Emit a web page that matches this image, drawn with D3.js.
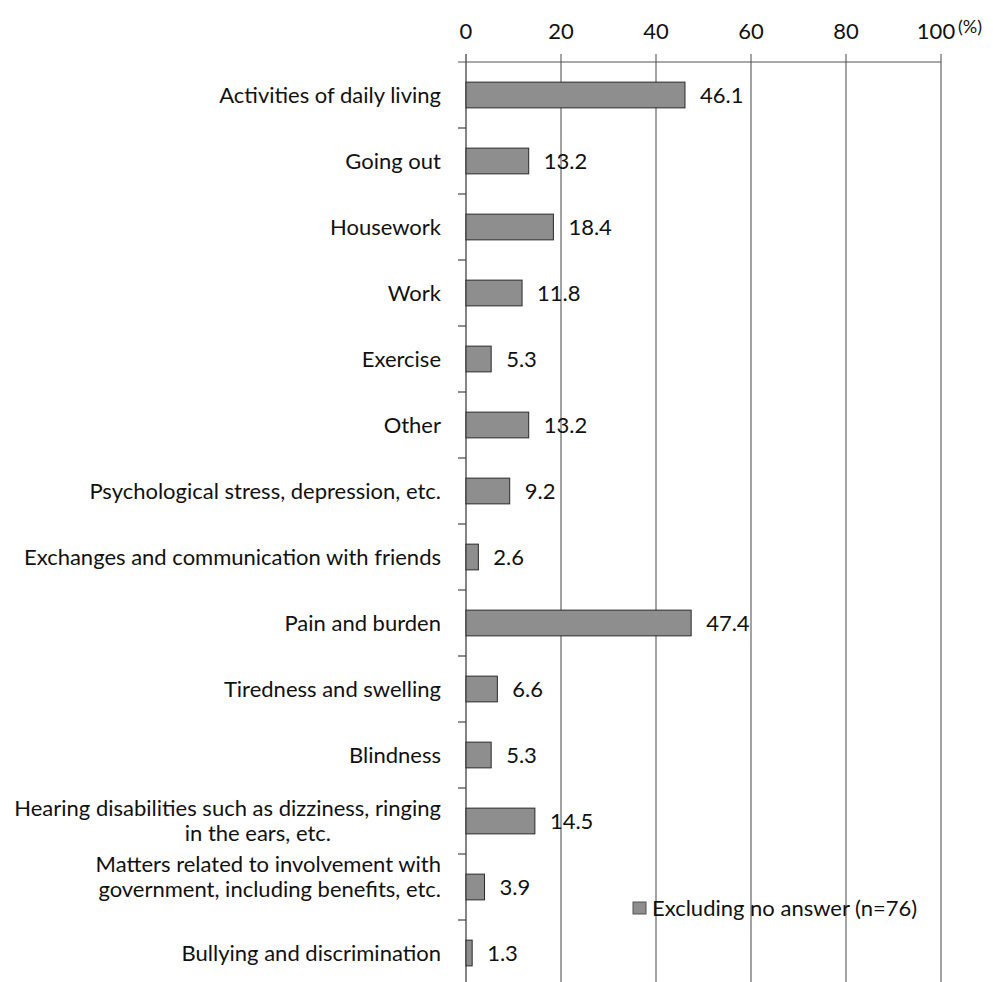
<!DOCTYPE html>
<html>
<head>
<meta charset="utf-8">
<script src="https://cdn.jsdelivr.net/npm/d3@7"></script>
<style>
  body { margin: 0; background: #fff; }
  text { font-family: Lato, "Open Sans", sans-serif; fill: #111; }
</style>
</head>
<body>
<svg id="chart"></svg>
<script>
// Categories (line breaks where the original wraps)
const categories = [
  ["Activities of daily living"],
  ["Going out"],
  ["Housework"],
  ["Work"],
  ["Exercise"],
  ["Other"],
  ["Psychological stress, depression, etc."],
  ["Exchanges and communication with friends"],
  ["Pain and burden"],
  ["Tiredness and swelling"],
  ["Blindness"],
  ["Hearing disabilities such as dizziness, ringing", "in the ears, etc."],
  ["Matters related to involvement with", "government, including benefits, etc."],
  ["Bullying and discrimination"]
];
const values = [46.1, 13.2, 18.4, 11.8, 5.3, 13.2, 9.2, 2.6, 47.4, 6.6, 5.3, 14.5, 3.9, 1.3];
const xTicks = [0, 20, 40, 60, 80, 100];
const legendLabel = "Excluding no answer (n=76)";

const data = categories.map((c, i) => ({ key: c.join(" "), lines: c, value: values[i] }));

const W = 993, H = 982;
const margin = { top: 62, left: 466 };
const plotW = 475;
const step = 66;

const svg = d3.select("#chart")
    .attr("width", W)
    .attr("height", H)
    .attr("viewBox", `0 0 ${W} ${H}`);

svg.append("rect").attr("width", W).attr("height", H).attr("fill", "#fff");

const x = d3.scaleLinear()
    .domain([0, 100])
    .range([margin.left, margin.left + plotW]);

const y = d3.scaleBand()
    .domain(data.map(d => d.key))
    .range([margin.top, margin.top + step * data.length])
    .paddingInner(0.61)
    .paddingOuter(0.305);

const bandTop = k => y(k) - (y.step() - y.bandwidth()) / 2;

// vertical gridlines (with the small tick above the axis)
svg.append("g")
  .selectAll("line")
  .data(xTicks)
  .join("line")
    .attr("x1", d => x(d)).attr("x2", d => x(d))
    .attr("y1", margin.top - 8).attr("y2", H)
    .attr("stroke", d => d === 0 ? "#333" : "#666")
    .attr("stroke-width", 1.2);

// top axis line
svg.append("line")
    .attr("x1", x(0) - 8).attr("x2", x(100))
    .attr("y1", margin.top).attr("y2", margin.top)
    .attr("stroke", "#555").attr("stroke-width", 1.2);

// tick labels
svg.append("g")
  .selectAll("text")
  .data(xTicks)
  .join("text")
    .attr("x", d => x(d) - (d === 100 ? 5 : 0))
    .attr("y", 39)
    .attr("text-anchor", "middle")
    .style("font-size", "22px")
    .text(d => d);

svg.append("text")
    .attr("x", 958).attr("y", 33)
    .style("font-size", "18px")
    .text("(%)");

// small ticks on the category axis, at band boundaries
svg.append("g")
  .selectAll("line")
  .data(data.slice(1))
  .join("line")
    .attr("x1", x(0) - 8).attr("x2", x(0))
    .attr("y1", d => bandTop(d.key)).attr("y2", d => bandTop(d.key))
    .attr("stroke", "#444").attr("stroke-width", 1.2);

// bars
svg.append("g")
  .selectAll("rect")
  .data(data)
  .join("rect")
    .attr("x", x(0))
    .attr("y", d => y(d.key))
    .attr("width", d => x(d.value) - x(0))
    .attr("height", y.bandwidth())
    .attr("fill", "#8e8e8e")
    .attr("stroke", "#2a2a2a")
    .attr("stroke-width", 1);

// value labels
svg.append("g")
  .selectAll("text")
  .data(data)
  .join("text")
    .attr("x", d => x(d.value) + 15)
    .attr("y", d => y(d.key) + y.bandwidth() / 2)
    .attr("dy", "0.35em")
    .style("font-size", "22px")
    .text(d => d.value.toFixed(1));

// category labels
const lineH = 25.5;
const shiftX = { "in the ears, etc.": -110 };
const shiftY = { "Matters related to involvement with government, including benefits, etc.": -10 };
const labels = svg.append("g")
  .selectAll("text")
  .data(data)
  .join("text")
    .attr("text-anchor", "end")
    .style("font-size", "22px");

labels.each(function(d) {
  const n = d.lines.length;
  const cy = y(d.key) + y.bandwidth() / 2 + (shiftY[d.key] || 0);
  d3.select(this).selectAll("tspan")
    .data(d.lines)
    .join("tspan")
      .attr("x", l => 441 + (shiftX[l] || 0))
      .attr("y", (l, i) => cy + (i - (n - 1) / 2) * lineH)
      .attr("dy", "0.35em")
      .text(l => l);
});

// legend
const lg = svg.append("g").attr("transform", "translate(633,902)");
lg.append("rect")
    .attr("width", 13).attr("height", 12)
    .attr("fill", "#8e8e8e").attr("stroke", "#555");
lg.append("text")
    .attr("x", 19).attr("y", 6)
    .attr("dy", "0.35em")
    .style("font-size", "22px")
    .text(legendLabel);
</script>
</body>
</html>
